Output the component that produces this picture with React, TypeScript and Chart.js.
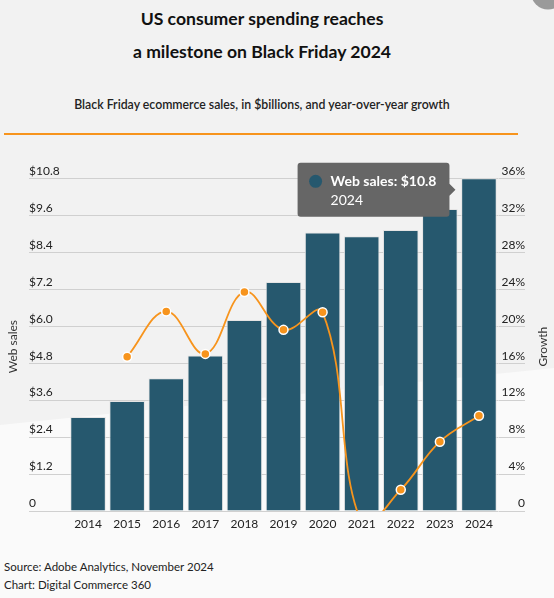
import { useEffect, useRef } from "react"
import { Chart, registerables, Tooltip } from "chart.js"

Chart.register(...registerables)

const years = ["2014", "2015", "2016", "2017", "2018", "2019", "2020", "2021", "2022", "2023", "2024"]
// web sales in $ billions
const webSales = [3.05, 3.57, 4.31, 5.05, 6.2, 7.43, 9.04, 8.92, 9.12, 9.8, 10.8]
// year-over-year growth in %
const growth = [null, 16.7, 21.6, 17.0, 23.7, 19.6, 21.5, -1.3, 2.3, 7.5, 10.3]
const salesTicks = [0, 1.2, 2.4, 3.6, 4.8, 6.0, 7.2, 8.4, 9.6, 10.8]
const growthTicks = [0, 4, 8, 12, 16, 20, 24, 28, 32, 36]
const highlightedYear = "2024"

const BAR_COLOR = "#26586e"
const ORANGE = "#f7941d"
const GRID = "#d0d0d0"
const FONT = "Lato, 'Noto Sans', sans-serif"

// caret sits just left of the hovered bar, a bit below its top
;(Tooltip.positioners as any).besideBar = function (items: any[]) {
  if (!items.length) return false
  const el = items[0].element
  return { x: el.x, y: el.y + 11.5 }
}

const extrasPlugin = {
  id: "extras",
  afterDraw(chart: any) {
    const { ctx, chartArea } = chart
    const midY = (chartArea.top + chartArea.bottom) / 2 + 2
    const drawTitle = (text: string, x: number) => {
      ctx.save()
      ctx.font = `12px ${FONT}`
      ctx.fillStyle = "#333"
      ctx.textAlign = "center"
      ctx.textBaseline = "middle"
      ctx.translate(x, midY)
      ctx.rotate(-Math.PI / 2)
      ctx.fillText(text, 0, 0)
      ctx.restore()
    }
    drawTitle("Web sales", 13)
    drawTitle("Growth", chart.width - 11)
  },
  afterTooltipDraw(chart: any, args: any) {
    const tt = args.tooltip
    if (!tt || !tt.opacity) return
    const { ctx } = chart
    ctx.save()
    ctx.fillStyle = BAR_COLOR
    ctx.beginPath()
    ctx.arc(tt.x + 18, tt.y + 18.5, 6.5, 0, Math.PI * 2)
    ctx.fill()
    ctx.restore()
  },
}

function SalesChart() {
  const chartRef = useRef<HTMLCanvasElement>(null)
  const chartInstance = useRef<Chart | null>(null)

  useEffect(() => {
    if (!chartRef.current) return
    if (chartInstance.current) chartInstance.current.destroy()
    const ctx = chartRef.current.getContext("2d")
    if (!ctx) return

    Chart.defaults.font.family = FONT
    Chart.defaults.color = "#333"

    const chart = new Chart(ctx, {
      type: "bar",
      data: {
        labels: years,
        datasets: [
          {
            type: "bar",
            label: "Web sales",
            data: webSales,
            yAxisID: "y",
            backgroundColor: BAR_COLOR,
            borderColor: "#e4e4e4",
            borderWidth: 1,
            barPercentage: 0.91,
            categoryPercentage: 1,
            order: 1,
          },
          {
            type: "line",
            label: "Growth",
            data: growth,
            yAxisID: "y2",
            borderColor: ORANGE,
            borderWidth: 1.8,
            tension: 0.4,
            pointRadius: 4.5,
            pointBorderWidth: 1.5,
            pointBackgroundColor: ORANGE,
            pointBorderColor: "#fff",
            order: 0,
          } as any,
        ],
      },
      options: {
        responsive: true,
        maintainAspectRatio: false,
        animation: false,
        events: [],
        layout: { padding: { top: 28.3, left: 29, right: 29, bottom: 0 } },
        plugins: {
          legend: { display: false },
          tooltip: {
            enabled: true,
            position: "besideBar" as any,
            xAlign: "right",
            yAlign: "center",
            backgroundColor: "#666666",
            cornerRadius: 3,
            caretSize: 6,
            caretPadding: 23.5,
            displayColors: false,
            padding: { top: 10.6, bottom: 8.3, left: 33, right: 13 },
            bodyFont: { family: FONT, size: 14, weight: "bold" },
            footerFont: { family: FONT, size: 14, weight: "normal" },
            footerMarginTop: 1.5,
            bodyColor: "#fff",
            footerColor: "#fff",
            callbacks: {
              title: () => "",
              label: (c) => `Web sales: $${(c.parsed.y as number).toFixed(1)}`,
              footer: (items) => (items.length ? items[0].label : ""),
            },
          },
        },
        scales: {
          x: {
            grid: { display: false, drawTicks: false },
            border: { display: false },
            ticks: { font: { size: 12 }, color: "#222", padding: 6, maxRotation: 0, autoSkip: false },
            afterFit: (s: any) => {
              s.height = 29
            },
          },
          y: {
            position: "left",
            min: 0,
            max: 10.8,
            border: { display: false },
            grid: { color: GRID, tickLength: 39.5, drawTicks: true },
            ticks: {
              crossAlign: "far",
              labelOffset: -7.5,
              font: { size: 12 },
              color: "#222",
              callback: (v) => (Number(v) === 0 ? "0" : `$${Number(v).toFixed(1)}`),
            },
            afterBuildTicks: (s: any) => {
              s.ticks = salesTicks.map((value) => ({ value }))
            },
            afterFit: (s: any) => {
              s.width = 39.5
            },
          },
          y2: {
            position: "right",
            min: 0,
            max: 36,
            border: { display: false },
            grid: { color: GRID, tickLength: 26.5, drawTicks: true, drawOnChartArea: false },
            ticks: {
              crossAlign: "far",
              labelOffset: -7.5,
              font: { size: 12 },
              color: "#222",
              callback: (v) => (Number(v) === 0 ? "0" : `${v}%`),
            },
            afterBuildTicks: (s: any) => {
              s.ticks = growthTicks.map((value) => ({ value }))
            },
            afterFit: (s: any) => {
              s.width = 26.5
            },
          },
        },
      },
      plugins: [extrasPlugin],
    })

    const idx = years.indexOf(highlightedYear)
    chart.tooltip?.setActiveElements([{ datasetIndex: 0, index: idx }], { x: 0, y: 0 })
    chart.update()
    chartInstance.current = chart

    return () => {
      if (chartInstance.current) {
        chartInstance.current.destroy()
        chartInstance.current = null
      }
    }
  }, [])

  return <canvas ref={chartRef} />
}

export default function App() {
  return (
    <div
      style={{
        position: "fixed",
        left: 0,
        top: 0,
        width: 554,
        height: 598,
        overflow: "hidden",
        background: "#f2f2f2",
        fontFamily: FONT,
        color: "#222",
      }}
    >
      <div
        style={{
          position: "absolute",
          inset: 0,
          background: "#fafafa",
          clipPath: "polygon(0 425px, 554px 368px, 554px 598px, 0 598px)",
        }}
      />
      <svg
        width={26}
        height={14}
        style={{ position: "absolute", left: 528, top: 0, zIndex: 2 }}
      >
        <circle cx={20} cy={-7.5} r={17} fill="#9a9a9a" />
      </svg>
      <div
        style={{
          position: "absolute",
          left: 0,
          width: 524,
          top: 2,
          textAlign: "center",
          fontSize: 17.6,
          fontWeight: 700,
          lineHeight: "33px",
          color: "#111",
        }}
      >
        US consumer spending reaches
        <br />a milestone on Black Friday 2024
      </div>
      <div
        style={{
          position: "absolute",
          left: 0,
          width: 524,
          top: 97,
          textAlign: "center",
          fontSize: 12.3,
          fontWeight: 600,
          lineHeight: "16px",
          color: "#222",
        }}
      >
        Black Friday ecommerce sales, in $billions, and year-over-year growth
      </div>
      <div style={{ position: "absolute", left: 4, top: 133, width: 514, height: 2, background: ORANGE }} />
      <div style={{ position: "absolute", left: 0, top: 150, width: 554, height: 390 }}>
        <SalesChart />
      </div>
      <div style={{ position: "absolute", left: 4, top: 558, fontSize: 11.5, lineHeight: "18px", color: "#222" }}>
        Source: Adobe Analytics, November 2024
        <br />
        Chart: Digital Commerce 360
      </div>
    </div>
  )
}
